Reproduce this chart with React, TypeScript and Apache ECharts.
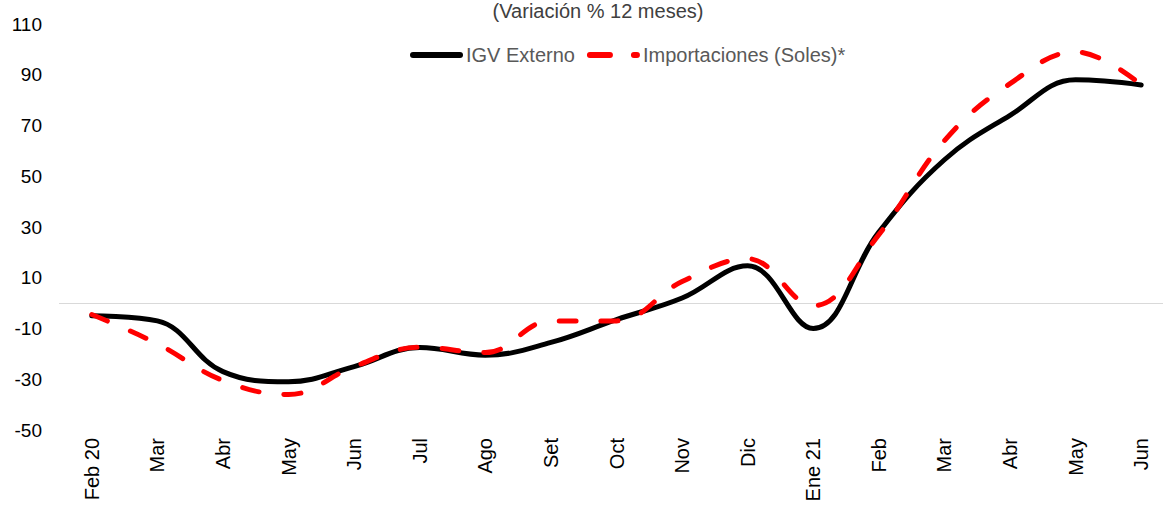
import React, { useEffect, useRef } from "react";
import * as echarts from "echarts";

const categories = ["Feb 20", "Mar", "Abr", "May", "Jun", "Jul", "Ago", "Set", "Oct", "Nov", "Dic", "Ene 21", "Feb", "Mar", "Abr", "May", "Jun"];
const igvExterno = [-5, -7, -27, -31, -25, -17.5, -20.5, -15.5, -6.5, 2, 14.7, -10, 28, 56.5, 74, 88, 86];
const importaciones = [-4.5, -16, -30.5, -36, -25, -17.4, -19.5, -7, -7, 8.5, 17.5, -1, 27, 64, 86.5, 99, 86];
const yTicks = { min: -50, max: 110, interval: 20 };
const seriesNames = ["IGV Externo", "Importaciones (Soles)*"];
const subtitle = "(Variación % 12 meses)";

export default function App() {
  const ref = useRef<HTMLDivElement>(null);
  useEffect(() => {
    document.body.style.margin = "0";
    document.body.style.overflow = "hidden";
    const chart = echarts.init(ref.current!, null, { renderer: "svg" });
    const font = "'Liberation Sans', Arial, sans-serif";
    const blackIcon = "path://M3,0H50A3,3 0 0 1 50,6H3A3,3 0 0 1 3,0Z";
    const redIcon = "path://M3,0H23A3,3 0 0 1 23,6H3A3,3 0 0 1 3,0Z M47,0H50A3,3 0 0 1 50,6H47A3,3 0 0 1 47,0Z";
    chart.setOption({
      animation: false,
      backgroundColor: "#ffffff",
      textStyle: { fontFamily: font },
      graphic: [
        {
          type: "text",
          x: 598,
          y: 11,
          style: {
            text: subtitle,
            fontFamily: font,
            fontSize: 20,
            fill: "#404040",
            textAlign: "center",
            textVerticalAlign: "middle",
          },
        },
      ],
      legend: {
        top: 40,
        left: 405,
        itemWidth: 53,
        itemHeight: 6,
        itemGap: 12,
        textStyle: { fontFamily: font, fontSize: 20, color: "#595959", padding: [0, 0, 0, -2] },
        data: [
          { name: seriesNames[0], icon: blackIcon, itemStyle: { color: "#000000" } },
          { name: seriesNames[1], icon: redIcon, itemStyle: { color: "#ff0000" } },
        ],
      },
      grid: { left: 59, right: 0, top: 24, bottom: 79 },
      xAxis: {
        type: "category",
        data: categories,
        boundaryGap: true,
        axisLine: { show: false },
        axisTick: { show: false },
        axisLabel: {
          interval: 0,
          rotate: 90,
          margin: 8,
          fontFamily: font,
          fontSize: 20,
          color: "#000000",
        },
      },
      yAxis: {
        type: "value",
        min: yTicks.min,
        max: yTicks.max,
        interval: yTicks.interval,
        axisLine: { show: false },
        axisTick: { show: false },
        splitLine: { show: false },
        axisLabel: { margin: 17, fontFamily: font, fontSize: 19, color: "#000000" },
      },
      series: [
        {
          name: seriesNames[0],
          type: "line",
          data: igvExterno,
          smooth: 0.4,
          symbol: "none",
          showSymbol: false,
          z: 2,
          lineStyle: { color: "#000000", width: 5, cap: "round" },
          itemStyle: { color: "#000000" },
          markLine: {
            silent: true,
            symbol: "none",
            label: { show: false },
            lineStyle: { color: "#d9d9d9", width: 1, type: "solid" },
            data: [{ yAxis: 0 }],
            z: 1,
          },
        },
        {
          name: seriesNames[1],
          type: "line",
          data: importaciones,
          smooth: 0.4,
          symbol: "none",
          showSymbol: false,
          z: 3,
          lineStyle: { color: "#ff0000", width: 5, type: [17, 25], cap: "round" },
          itemStyle: { color: "#ff0000" },
        },
      ],
    });
    return () => chart.dispose();
  }, []);
  return <div ref={ref} style={{ width: 1174, height: 509 }} />;
}
